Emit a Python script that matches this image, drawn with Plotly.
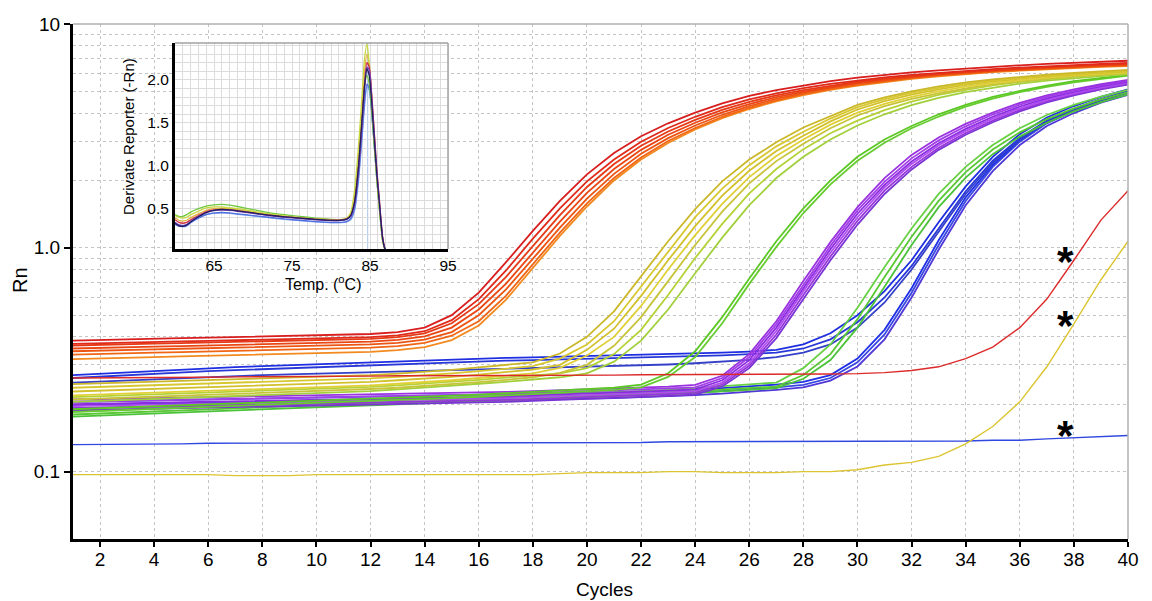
import math
import plotly.graph_objects as go

# ---------------- main amplification plot data (Rn per cycle) ----------------
CYCLES = list(range(1, 41))

red_1 = [0.385,0.388,0.391,0.393,0.395,0.397,0.399,0.401,0.403,0.405,0.408,0.412,0.42,0.44,0.50,0.63,0.86,1.19,1.62,2.13,2.65,3.15,3.6,4.02,4.42,4.77,5.07,5.33,5.56,5.76,5.93,6.08,6.21,6.33,6.44,6.54,6.63,6.71,6.78,6.85]
red_2 = [0.372,0.375,0.378,0.38,0.382,0.384,0.386,0.388,0.39,0.392,0.395,0.399,0.406,0.424,0.475,0.59,0.79,1.10,1.50,1.98,2.48,2.98,3.43,3.85,4.25,4.6,4.9,5.17,5.4,5.6,5.78,5.93,6.06,6.18,6.29,6.39,6.48,6.56,6.63,6.7]
red_3 = [0.366,0.369,0.371,0.373,0.375,0.377,0.379,0.381,0.383,0.385,0.388,0.392,0.399,0.415,0.46,0.56,0.74,1.02,1.4,1.87,2.37,2.86,3.31,3.73,4.13,4.49,4.8,5.07,5.31,5.52,5.7,5.86,6.0,6.12,6.23,6.33,6.42,6.5,6.57,6.64]
red_4 = [0.355,0.358,0.36,0.362,0.364,0.366,0.368,0.37,0.372,0.374,0.377,0.381,0.388,0.402,0.44,0.53,0.69,0.95,1.31,1.76,2.25,2.74,3.2,3.62,4.03,4.39,4.71,4.99,5.24,5.46,5.65,5.82,5.96,6.09,6.2,6.3,6.39,6.47,6.54,6.6]
red_5 = [0.345,0.348,0.35,0.352,0.354,0.356,0.358,0.36,0.362,0.364,0.367,0.37,0.376,0.389,0.42,0.50,0.65,0.89,1.23,1.66,2.14,2.63,3.09,3.52,3.93,4.3,4.63,4.92,5.18,5.41,5.6,5.77,5.92,6.05,6.16,6.26,6.35,6.43,6.5,6.56]
red_6 = [0.333,0.336,0.338,0.34,0.342,0.344,0.346,0.348,0.35,0.352,0.355,0.358,0.364,0.376,0.405,0.47,0.61,0.84,1.17,1.58,2.05,2.53,3.0,3.43,3.85,4.22,4.56,4.86,5.12,5.35,5.55,5.73,5.88,6.01,6.13,6.23,6.32,6.4,6.47,6.53]
red_7 = [0.318,0.321,0.323,0.325,0.327,0.329,0.331,0.333,0.335,0.337,0.34,0.343,0.349,0.36,0.387,0.45,0.585,0.81,1.13,1.53,2.0,2.48,2.94,3.38,3.8,4.17,4.51,4.81,5.08,5.31,5.51,5.69,5.84,5.97,6.09,6.19,6.28,6.36,6.43,6.49]

yellow_1 = [0.246,0.248,0.25,0.252,0.254,0.256,0.258,0.26,0.262,0.264,0.267,0.27,0.274,0.279,0.285,0.292,0.30,0.308,0.337,0.40,0.52,0.745,1.07,1.49,1.98,2.48,2.96,3.45,3.88,4.35,4.7,5.0,5.26,5.48,5.66,5.81,5.94,6.05,6.15,6.24]
yellow_2 = [0.237,0.239,0.241,0.243,0.245,0.247,0.249,0.251,0.253,0.255,0.258,0.261,0.265,0.269,0.275,0.281,0.288,0.296,0.32,0.37,0.47,0.67,0.96,1.37,1.84,2.34,2.84,3.3,3.78,4.25,4.62,4.92,5.18,5.41,5.6,5.76,5.89,6.0,6.1,6.19]
yellow_3 = [0.228,0.23,0.232,0.234,0.236,0.238,0.24,0.242,0.244,0.246,0.249,0.252,0.256,0.26,0.265,0.271,0.278,0.286,0.30,0.35,0.435,0.61,0.88,1.25,1.71,2.21,2.71,3.17,3.67,4.15,4.52,4.83,5.1,5.35,5.54,5.7,5.84,5.96,6.06,6.14]
yellow_4 = [0.219,0.221,0.223,0.225,0.227,0.229,0.231,0.233,0.235,0.237,0.24,0.243,0.247,0.251,0.256,0.262,0.268,0.275,0.291,0.33,0.40,0.55,0.80,1.14,1.57,2.07,2.57,3.05,3.55,4.02,4.4,4.72,5.0,5.25,5.45,5.62,5.76,5.89,5.99,6.08]
yellow_5 = [0.21,0.212,0.214,0.216,0.218,0.22,0.222,0.224,0.226,0.228,0.231,0.234,0.237,0.241,0.246,0.251,0.257,0.264,0.276,0.30,0.365,0.49,0.71,1.03,1.45,1.94,2.44,2.92,3.42,3.9,4.3,4.63,4.9,5.15,5.37,5.55,5.7,5.83,5.94,6.03]

yg_1 = [0.215,0.217,0.219,0.221,0.223,0.225,0.227,0.229,0.231,0.233,0.236,0.239,0.243,0.247,0.252,0.257,0.263,0.269,0.275,0.29,0.335,0.43,0.615,0.90,1.28,1.75,2.25,2.76,3.25,3.7,4.12,4.5,4.82,5.08,5.32,5.52,5.67,5.8,5.92,6.02]
yg_2 = [0.205,0.207,0.209,0.211,0.213,0.215,0.217,0.219,0.221,0.223,0.226,0.229,0.233,0.237,0.242,0.247,0.252,0.258,0.264,0.275,0.31,0.385,0.53,0.77,1.11,1.55,2.05,2.55,3.05,3.52,3.95,4.34,4.68,4.96,5.2,5.42,5.58,5.72,5.85,5.96]

green_1a = [0.19,0.192,0.194,0.196,0.198,0.2,0.202,0.204,0.206,0.208,0.21,0.212,0.214,0.216,0.218,0.221,0.224,0.227,0.23,0.234,0.237,0.245,0.275,0.345,0.49,0.73,1.07,1.5,2.0,2.55,3.05,3.5,3.95,4.35,4.72,5.02,5.3,5.55,5.75,5.92]
green_1b = [0.185,0.187,0.189,0.191,0.193,0.195,0.197,0.199,0.201,0.203,0.205,0.207,0.209,0.211,0.213,0.216,0.219,0.222,0.225,0.229,0.232,0.238,0.265,0.325,0.46,0.69,1.01,1.43,1.92,2.45,2.95,3.42,3.86,4.27,4.64,4.96,5.24,5.49,5.7,5.88]

purple_1 = [0.21,0.211,0.212,0.213,0.214,0.215,0.216,0.217,0.218,0.219,0.22,0.221,0.222,0.223,0.224,0.225,0.227,0.229,0.231,0.233,0.235,0.237,0.24,0.244,0.268,0.335,0.47,0.71,1.06,1.52,2.05,2.6,3.11,3.58,4.02,4.44,4.8,5.1,5.38,5.62]
purple_2 = [0.205,0.206,0.207,0.208,0.209,0.21,0.211,0.212,0.213,0.214,0.215,0.216,0.217,0.218,0.219,0.22,0.222,0.224,0.226,0.228,0.23,0.232,0.235,0.238,0.262,0.325,0.455,0.68,1.02,1.47,1.97,2.51,3.02,3.49,3.94,4.36,4.72,5.03,5.32,5.57]
purple_3 = [0.2,0.201,0.202,0.203,0.204,0.205,0.206,0.207,0.208,0.209,0.21,0.211,0.212,0.213,0.214,0.215,0.217,0.219,0.221,0.223,0.225,0.227,0.23,0.233,0.256,0.315,0.44,0.66,0.985,1.42,1.91,2.43,2.93,3.4,3.85,4.28,4.65,4.97,5.26,5.52]
purple_4 = [0.196,0.197,0.198,0.199,0.2,0.201,0.202,0.203,0.204,0.205,0.206,0.207,0.208,0.209,0.21,0.211,0.213,0.215,0.217,0.219,0.221,0.223,0.226,0.229,0.25,0.305,0.425,0.64,0.95,1.37,1.86,2.37,2.87,3.33,3.78,4.2,4.58,4.9,5.2,5.46]
purple_5 = [0.192,0.193,0.194,0.195,0.196,0.197,0.198,0.199,0.2,0.201,0.202,0.203,0.204,0.205,0.206,0.207,0.209,0.211,0.213,0.215,0.217,0.219,0.222,0.225,0.245,0.297,0.41,0.615,0.915,1.32,1.8,2.3,2.8,3.26,3.7,4.13,4.51,4.85,5.15,5.4]
purple_6 = [0.188,0.189,0.19,0.191,0.192,0.193,0.194,0.195,0.196,0.197,0.198,0.199,0.2,0.201,0.202,0.203,0.205,0.207,0.209,0.211,0.213,0.215,0.218,0.221,0.24,0.29,0.395,0.59,0.88,1.27,1.74,2.24,2.74,3.2,3.64,4.07,4.46,4.8,5.11,5.36]

green_2a = [0.18,0.182,0.184,0.186,0.188,0.19,0.192,0.194,0.196,0.198,0.2,0.202,0.204,0.206,0.208,0.21,0.212,0.214,0.216,0.218,0.22,0.223,0.226,0.229,0.232,0.236,0.24,0.27,0.335,0.48,0.74,1.12,1.62,2.18,2.75,3.28,3.76,4.2,4.6,4.95]
green_2b = [0.176,0.178,0.18,0.182,0.184,0.186,0.188,0.19,0.192,0.194,0.196,0.198,0.2,0.202,0.204,0.206,0.208,0.21,0.212,0.214,0.216,0.219,0.222,0.225,0.228,0.232,0.236,0.26,0.315,0.44,0.67,1.03,1.52,2.06,2.62,3.14,3.62,4.07,4.48,4.85]
green_2c = [0.185,0.187,0.189,0.191,0.193,0.195,0.197,0.199,0.201,0.203,0.205,0.207,0.209,0.211,0.213,0.215,0.217,0.219,0.221,0.223,0.226,0.229,0.232,0.236,0.24,0.245,0.25,0.29,0.37,0.54,0.82,1.22,1.74,2.3,2.88,3.42,3.92,4.35,4.74,5.08]

blue_1 = [0.27,0.274,0.278,0.282,0.286,0.29,0.293,0.296,0.299,0.302,0.305,0.308,0.311,0.314,0.317,0.32,0.322,0.324,0.326,0.328,0.33,0.332,0.334,0.337,0.34,0.344,0.35,0.37,0.415,0.5,0.64,0.88,1.3,1.88,2.55,3.22,3.82,4.3,4.72,5.1]
blue_2 = [0.262,0.266,0.27,0.274,0.278,0.281,0.284,0.287,0.29,0.293,0.296,0.299,0.302,0.305,0.308,0.311,0.313,0.315,0.317,0.319,0.321,0.323,0.325,0.328,0.331,0.335,0.34,0.355,0.39,0.465,0.6,0.83,1.22,1.79,2.45,3.1,3.7,4.18,4.62,5.0]
blue_3 = [0.25,0.253,0.256,0.259,0.262,0.265,0.268,0.27,0.272,0.274,0.276,0.278,0.28,0.282,0.284,0.286,0.288,0.29,0.292,0.294,0.296,0.298,0.301,0.305,0.31,0.316,0.325,0.34,0.37,0.44,0.57,0.8,1.18,1.74,2.4,3.05,3.64,4.13,4.56,4.95]
blue_4 = [0.205,0.206,0.207,0.208,0.209,0.21,0.211,0.212,0.213,0.214,0.215,0.216,0.217,0.218,0.219,0.22,0.221,0.222,0.223,0.224,0.226,0.228,0.23,0.233,0.236,0.24,0.245,0.252,0.27,0.32,0.43,0.66,1.08,1.68,2.35,3.03,3.65,4.14,4.6,4.98]
blue_5 = [0.198,0.199,0.2,0.201,0.202,0.203,0.204,0.205,0.206,0.207,0.208,0.209,0.21,0.211,0.212,0.213,0.214,0.215,0.216,0.217,0.219,0.221,0.223,0.226,0.229,0.233,0.238,0.244,0.262,0.308,0.41,0.63,1.03,1.62,2.3,2.98,3.6,4.1,4.55,4.93]
blue_6 = [0.192,0.193,0.194,0.195,0.196,0.197,0.198,0.199,0.2,0.201,0.202,0.203,0.204,0.205,0.206,0.207,0.208,0.209,0.21,0.211,0.213,0.215,0.217,0.22,0.223,0.227,0.232,0.238,0.255,0.295,0.39,0.6,0.98,1.55,2.2,2.88,3.5,4.0,4.45,4.83]

red_single = [0.262,0.262,0.263,0.263,0.264,0.264,0.265,0.265,0.266,0.266,0.267,0.267,0.268,0.268,0.268,0.269,0.269,0.27,0.27,0.27,0.27,0.271,0.271,0.271,0.271,0.272,0.272,0.272,0.273,0.274,0.277,0.283,0.294,0.32,0.36,0.44,0.59,0.88,1.33,1.8]
yellow_single = [0.097,0.097,0.097,0.097,0.097,0.097,0.096,0.096,0.096,0.097,0.097,0.097,0.097,0.097,0.097,0.097,0.097,0.097,0.098,0.099,0.099,0.099,0.1,0.1,0.099,0.099,0.099,0.1,0.1,0.102,0.107,0.11,0.117,0.133,0.159,0.205,0.294,0.457,0.72,1.07]
blue_single = [0.132,0.132,0.133,0.133,0.133,0.134,0.134,0.134,0.134,0.135,0.135,0.135,0.135,0.135,0.135,0.135,0.134,0.134,0.134,0.135,0.135,0.135,0.136,0.136,0.136,0.136,0.136,0.136,0.136,0.137,0.137,0.137,0.137,0.137,0.138,0.138,0.14,0.142,0.144,0.145]

X_TICKS = list(range(2, 41, 2))
Y_TICKS = [0.1, 1, 10]
Y_TICK_TEXT = ["0.1", "1.0", "10"]
Y_MINOR = [0.2, 0.3, 0.4, 0.5, 0.6, 0.7, 0.8, 0.9, 2, 3, 4, 5, 6, 7, 8, 9]

ASTERISK_X = [37.7, 37.7, 37.7]
ASTERISK_Y = [0.96, 0.50, 0.16]

# ---------------- inset melt-curve data ----------------
TEMP = [60, 60.5, 61, 61.5, 62, 63, 64, 65, 66, 67, 68, 70, 72, 74, 76, 78, 80, 81, 82, 82.5, 83, 83.5, 84, 84.3, 84.6, 84.9, 85.2, 85.5, 85.9, 86.2, 86.6, 86.9, 87.2]
melt_green = [0.43,0.41,0.41,0.43,0.46,0.5,0.53,0.545,0.55,0.54,0.525,0.49,0.455,0.43,0.41,0.39,0.375,0.37,0.385,0.43,0.62,1.05,1.65,1.95,2.05,1.95,1.65,1.28,0.8,0.5,0.14,0.03,0.0]
melt_lime = [0.42,0.40,0.39,0.40,0.43,0.47,0.51,0.52,0.52,0.51,0.5,0.47,0.44,0.415,0.395,0.38,0.37,0.37,0.39,0.45,0.7,1.2,1.85,2.25,2.42,2.2,1.8,1.35,0.82,0.5,0.13,0.03,0.0]
melt_red = [0.37,0.34,0.33,0.34,0.37,0.42,0.465,0.485,0.49,0.485,0.475,0.45,0.425,0.405,0.39,0.376,0.366,0.366,0.38,0.415,0.56,0.95,1.55,1.95,2.2,2.15,1.85,1.45,0.92,0.6,0.18,0.04,0.0]
melt_purple = [0.34,0.31,0.30,0.315,0.35,0.41,0.455,0.48,0.485,0.48,0.47,0.445,0.42,0.4,0.385,0.37,0.36,0.36,0.375,0.41,0.55,0.93,1.52,1.9,2.15,2.12,1.82,1.42,0.9,0.58,0.17,0.04,0.0]
melt_navy = [0.33,0.30,0.295,0.31,0.345,0.405,0.455,0.48,0.49,0.485,0.475,0.45,0.425,0.405,0.39,0.375,0.364,0.364,0.378,0.415,0.57,0.97,1.57,1.93,2.13,2.05,1.75,1.36,0.86,0.56,0.16,0.035,0.0]
melt_blue = [0.32,0.295,0.29,0.30,0.335,0.39,0.43,0.45,0.455,0.45,0.44,0.42,0.4,0.38,0.365,0.35,0.34,0.34,0.35,0.38,0.5,0.85,1.4,1.75,1.95,1.9,1.65,1.3,0.82,0.52,0.15,0.03,0.0]
melt_orange = [0.39,0.365,0.355,0.365,0.395,0.44,0.48,0.5,0.505,0.5,0.49,0.462,0.435,0.412,0.395,0.38,0.37,0.37,0.385,0.43,0.62,1.05,1.7,2.1,2.3,2.15,1.8,1.38,0.86,0.55,0.16,0.035,0.0]
melt_sky = [0.33,0.31,0.305,0.315,0.345,0.395,0.43,0.445,0.45,0.445,0.435,0.415,0.395,0.375,0.36,0.345,0.335,0.335,0.345,0.37,0.47,0.8,1.35,1.7,1.92,1.88,1.62,1.28,0.8,0.5,0.14,0.03,0.0]

INSET_X_TICKS = [65, 75, 85, 95]
INSET_Y_TICKS = [0.5, 1.0, 1.5, 2.0]
INSET_Y_TICK_TEXT = ["0.5", "1.0", "1.5", "2.0"]
TM_MARK = 84.7

# ---------------- build figure ----------------
main_series = [
    (blue_6, "#5038d8"), (blue_5, "#3848e0"), (blue_4, "#2030e8"),
    (blue_3, "#3440c8"), (blue_2, "#2838d8"), (blue_1, "#1e2ee0"),
    (green_2b, "#4cc23a"), (green_2a, "#58c832"), (green_2c, "#68d044"),
    (purple_6, "#7a34d6"), (purple_5, "#9436d8"), (purple_4, "#b04cf0"),
    (purple_3, "#8c2ce0"), (purple_2, "#a23ee8"), (purple_1, "#9a32e0"),
    (green_1b, "#66cc30"), (green_1a, "#5cc824"),
    (yg_2, "#a2d03c"), (yg_1, "#b4d236"),
    (yellow_5, "#c8c43a"), (yellow_4, "#e0d038"), (yellow_3, "#d2c02c"),
    (yellow_2, "#d8c830"), (yellow_1, "#cbb82a"),
    (red_7, "#f28a20"), (red_6, "#f06614"), (red_5, "#ed5412"),
    (red_4, "#ea4614"), (red_3, "#e63a16"), (red_2, "#e02a1a"), (red_1, "#d81e1e"),
]
single_series = [
    (blue_single, "#3048e0"), (yellow_single, "#dcc430"), (red_single, "#dc2a2a"),
]

fig = go.Figure()
for vals, col in main_series:
    fig.add_trace(go.Scatter(x=CYCLES, y=vals, mode="lines",
                             line=dict(color=col, width=1.8),
                             hoverinfo="skip", showlegend=False,
                             xaxis="x", yaxis="y"))
for vals, col in single_series:
    fig.add_trace(go.Scatter(x=CYCLES, y=vals, mode="lines",
                             line=dict(color=col, width=1.4),
                             hoverinfo="skip", showlegend=False,
                             xaxis="x", yaxis="y"))

melt_series = [
    (melt_sky, "#88a8f0"), (melt_blue, "#5070e0"), (melt_green, "#70c840"),
    (melt_orange, "#e0b040"), (melt_lime, "#c8d840"), (melt_red, "#d03040"),
    (melt_purple, "#8040c0"), (melt_navy, "#202060"),
]
for vals, col in melt_series:
    fig.add_trace(go.Scatter(x=TEMP, y=vals, mode="lines",
                             line=dict(color=col, width=1.3, shape="spline", smoothing=0.6),
                             hoverinfo="skip", showlegend=False,
                             xaxis="x2", yaxis="y2"))

FONT = "Liberation Sans, Arial, Helvetica, sans-serif"
GRID_MAIN = "#c4c4c4"
GRID_INSET = "#dcdcdc"

fig.update_layout(
    width=1152, height=601,
    margin=dict(l=73, r=24, t=24, b=62, pad=0),
    paper_bgcolor="white", plot_bgcolor="white",
    showlegend=False,
    font=dict(family=FONT, color="black"),
    xaxis=dict(
        domain=[0, 1], anchor="y", range=[1, 40],
        tickmode="array", tickvals=X_TICKS,
        showgrid=True, gridcolor=GRID_MAIN, gridwidth=1, griddash="3px,3px",
        zeroline=False, showline=True, linecolor="black", linewidth=3,
        ticks="outside", ticklen=5, tickwidth=1.5, tickcolor="black",
        ticklabelstandoff=-4,
        tickfont=dict(size=19, family=FONT, color="black"),
    ),
    yaxis=dict(
        domain=[0, 1], anchor="x", type="log",
        range=[math.log10(0.05), 1],
        tickmode="array", tickvals=Y_TICKS, ticktext=Y_TICK_TEXT,
        showgrid=True, gridcolor=GRID_MAIN, gridwidth=1, griddash="3px,3px",
        minor=dict(tickmode="array", tickvals=Y_MINOR, showgrid=True,
                   gridcolor=GRID_MAIN, gridwidth=1, griddash="3px,3px", ticks=""),
        zeroline=False, showline=True, linecolor="black", linewidth=3,
        ticks="outside", ticklen=6, tickwidth=1.5, tickcolor="black",
        tickfont=dict(size=19, family=FONT, color="black"),
    ),
    xaxis2=dict(
        domain=[0.0967, 0.3555], anchor="y2", range=[60, 95],
        tickmode="array", tickvals=INSET_X_TICKS,
        showgrid=True, gridcolor=GRID_INSET, gridwidth=1,
        minor=dict(dtick=1, tick0=60, showgrid=True, gridcolor=GRID_INSET, gridwidth=1, ticks=""),
        zeroline=False, showline=True, linecolor="black", linewidth=3,
        ticks="", tickfont=dict(size=15.5, family=FONT, color="black"),
    ),
    yaxis2=dict(
        domain=[0.5631, 0.9631], anchor="x2", range=[0.03, 2.43],
        tickmode="array", tickvals=INSET_Y_TICKS, ticktext=INSET_Y_TICK_TEXT,
        showgrid=True, gridcolor=GRID_INSET, gridwidth=1,
        minor=dict(dtick=0.1, tick0=0, showgrid=True, gridcolor=GRID_INSET, gridwidth=1, ticks=""),
        zeroline=False, showline=True, linecolor="black", linewidth=3,
        ticks="", tickfont=dict(size=15.5, family=FONT, color="black"),
    ),
)

shapes = [
    dict(type="line", xref="paper", yref="paper", x0=0, x1=1, y0=1, y1=1,
         line=dict(color="#b0b0b0", width=1.5), layer="above"),
    dict(type="line", xref="paper", yref="paper", x0=1, x1=1, y0=0, y1=1,
         line=dict(color="#b0b0b0", width=1.5), layer="above"),
    dict(type="line", xref="x2", yref="y2", x0=TM_MARK, x1=TM_MARK, y0=0.03, y1=2.43,
         line=dict(color="#a8c4ec", width=1), layer="below"),
    dict(type="line", xref="x2 domain", yref="y2 domain", x0=0, x1=1, y0=1, y1=1,
         line=dict(color="#a0a0a0", width=1.5), layer="above"),
    dict(type="line", xref="x2 domain", yref="y2 domain", x0=1, x1=1, y0=0, y1=1,
         line=dict(color="#a0a0a0", width=1.5), layer="above"),
]
fig.update_layout(shapes=shapes)

annotations = [
    dict(text="Rn", xref="paper", yref="paper", x=-0.0502, y=0.503,
         showarrow=False, textangle=-90, font=dict(size=20, family=FONT, color="black"),
         xanchor="center", yanchor="middle"),
    dict(text="Cycles", xref="paper", yref="paper", x=0.504, y=-0.099,
         showarrow=False, font=dict(size=19, family=FONT, color="black"),
         xanchor="center", yanchor="middle"),
    dict(text="Derivate Reporter (-Rn)", xref="paper", yref="paper", x=0.0521, y=0.7825,
         showarrow=False, textangle=-90, font=dict(size=15, family=FONT, color="black"),
         xanchor="center", yanchor="middle"),
    dict(text="Temp. (<sup>o</sup>C)", xref="paper", yref="paper", x=0.237, y=0.497,
         showarrow=False, font=dict(size=16, family=FONT, color="black"),
         xanchor="center", yanchor="middle"),
]
for ax, ay in zip(ASTERISK_X, ASTERISK_Y):
    annotations.append(dict(text="<b>*</b>", xref="x", yref="y", x=ax, y=math.log10(ay),
                            showarrow=False, font=dict(size=42, family=FONT, color="black"),
                            xanchor="center", yanchor="middle", yshift=-10))
fig.update_layout(annotations=annotations)

fig.write_html("out.html")
